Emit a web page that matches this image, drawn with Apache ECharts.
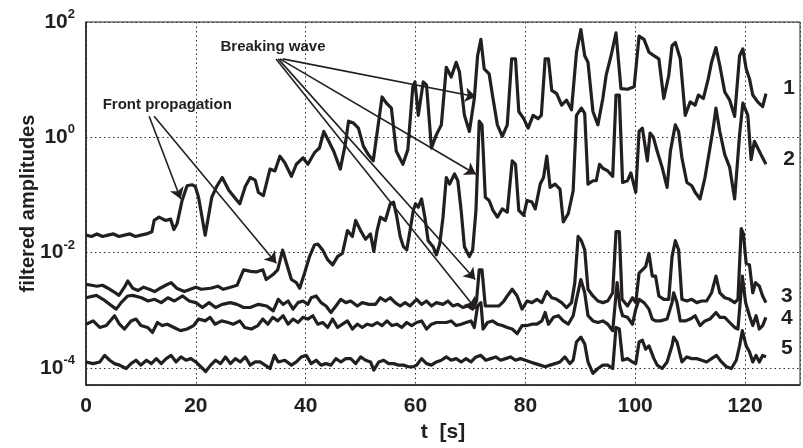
<!DOCTYPE html>
<html>
<head>
<meta charset="utf-8">
<script src="https://cdn.jsdelivr.net/npm/echarts@6/dist/echarts.min.js"></script>
<style>html,body{margin:0;padding:0;background:#fff}#c{width:803px;height:448px}</style>
</head>
<body>
<div id="c"></div>
<script>
// ---- data ----
const xTicks = [0, 20, 40, 60, 80, 100, 120];
const yTickExps = [-4, -2, 0, 2];
const seriesNames = ['1', '2', '3', '4', '5'];

const s1 = [[0,0.020],[1,0.019],[2,0.021],[3,0.019],[4,0.020],[5,0.021],[6,0.019],[7,0.020],[8,0.021],[9,0.019],[10,0.020],[11,0.021],[12,0.023],[12.4,0.036],[13.3,0.041],[14.5,0.036],[15.4,0.038],[16.0,0.025],[16.6,0.032],[17.5,0.080],[18.4,0.144],[19.3,0.15],[19.9,0.14],[20.5,0.09],[21.7,0.020],[22.9,0.091],[23.8,0.14],[24.8,0.20],[26.0,0.12],[27.5,0.080],[28.0,0.070],[29.0,0.14],[29.9,0.20],[30.8,0.18],[31.4,0.11],[32.3,0.097],[33.5,0.28],[34.4,0.26],[35.3,0.47],[36.2,0.36],[37.4,0.21],[38.3,0.34],[39.5,0.44],[40.4,0.34],[41.6,0.54],[42.5,0.65],[43.3,1.26],[44.2,0.85],[45.1,0.57],[46.3,0.28],[47.2,0.75],[47.8,1.9],[48.7,1.76],[49.6,1.44],[50.5,0.70],[51.4,0.50],[52.3,0.39],[53.2,1.64],[53.9,5.0],[54.7,3.9],[55.6,3.2],[56.5,0.57],[57.7,0.34],[58.6,0.61],[59.5,7.5],[59.9,9.1],[60.5,2.4],[61.4,9.1],[62.0,8.0],[62.9,0.65],[63.8,1.11],[64.7,1.64],[65.6,16.4],[66.5,11.1],[67.4,20],[68.0,13.5],[68.9,2.4],[69.8,1.26],[70.7,4.7],[71.3,26],[71.9,50],[72.5,15.4],[73.4,12.6],[74.0,5.4],[74.9,1.64],[75.8,1.04],[76.7,1.64],[77.5,22.9],[78.2,22.9],[78.8,2.8],[79.7,2.1],[80.5,1.44],[81.4,2.4],[82.3,2.1],[82.9,2.4],[83.6,22.9],[84.2,22.9],[84.8,6.5],[85.7,5.7],[86.6,3.6],[87.5,4.4],[88.4,3.0],[89.3,29.7],[90.1,74],[90.8,26],[91.4,20],[92.3,2.8],[93.2,1.64],[94.1,4.7],[94.7,11.8],[95.6,26],[96.5,65],[97.4,7.0],[98.6,6.8],[99.8,7.5],[100.7,57],[101.6,50],[102.5,30],[103.4,26],[104.3,23],[105.2,4.7],[106.1,11.8],[106.7,38.7],[107.3,44],[108.2,23],[109.1,2.4],[110,4.1],[110.9,3.6],[111.5,5.4],[112.4,4.7],[113.3,10.4],[113.9,20],[114.7,36],[115.4,17.6],[116.3,6.1],[117.2,4.4],[118.1,2.3],[119.0,26],[119.6,34],[120.2,15.4],[120.8,10.4],[121.4,5.4],[122.3,4.1],[123.2,3.4],[123.8,5.7]];

const s2 = [[0,0.0028],[1,0.0027],[2,0.0026],[3,0.0027],[4,0.0024],[5,0.0021],[6,0.0018],[7,0.0025],[7.6,0.0032],[8.5,0.0024],[9.5,0.0022],[10.5,0.0025],[11.5,0.0023],[12.5,0.0021],[13.5,0.0024],[14.5,0.0027],[15.5,0.0030],[16.5,0.0024],[17.9,0.0021],[19,0.0023],[20,0.0025],[21,0.0023],[22.7,0.0024],[24,0.0026],[25,0.0023],[26.3,0.0025],[27.5,0.0027],[28.7,0.0050],[30,0.0047],[31,0.0046],[32.2,0.0050],[32.8,0.0034],[34,0.0041],[34.9,0.0050],[35.8,0.011],[36.5,0.0065],[37.4,0.0034],[38.3,0.0030],[38.9,0.0024],[39.8,0.0044],[40.7,0.0085],[41.6,0.0135],[42.2,0.014],[43.1,0.011],[44,0.0075],[44.9,0.0061],[45.8,0.0085],[46.7,0.0097],[47.6,0.024],[48.5,0.019],[49.1,0.036],[50,0.024],[50.9,0.017],[51.8,0.021],[52.4,0.0104],[53,0.024],[53.6,0.041],[54.5,0.036],[55.4,0.070],[56,0.075],[56.6,0.041],[57.2,0.019],[57.8,0.0126],[58.4,0.0111],[59,0.024],[59.6,0.054],[60.0,0.070],[60.5,0.061],[61.1,0.085],[61.7,0.041],[62.3,0.016],[63.2,0.0126],[63.8,0.0091],[64.4,0.014],[65,0.041],[65.6,0.20],[66.2,0.154],[67.1,0.23],[67.7,0.176],[68.3,0.054],[68.9,0.0126],[69.8,0.0085],[70.4,0.0111],[71,0.054],[71.6,1.9],[72.1,1.64],[72.7,0.091],[73.4,0.080],[74.1,0.054],[74.9,0.041],[75.8,0.057],[76.7,0.050],[77.6,0.39],[78.2,0.34],[78.8,0.054],[79.7,0.044],[80.3,0.080],[81.2,0.075],[81.8,0.057],[82.7,0.154],[83.3,0.20],[83.9,0.47],[84.5,0.135],[85.4,0.154],[86.3,0.126],[86.9,0.034],[87.8,0.047],[88.7,0.118],[89.3,2.4],[90.2,3.2],[90.8,2.6],[91.4,0.154],[92.3,0.176],[92.9,0.176],[93.5,0.34],[94.1,0.29],[95,0.26],[95.9,0.21],[96.5,5.4],[97.1,5.4],[97.7,0.164],[98.6,0.176],[99.2,0.24],[100.1,0.111],[100.7,1.26],[101.3,1.44],[102.2,0.39],[102.7,1.18],[103.3,1.0],[104,0.57],[104.9,0.30],[105.8,0.135],[106.4,0.57],[107.3,1.64],[107.9,1.26],[108.5,0.44],[109.4,0.164],[110.3,0.144],[110.9,0.111],[111.8,0.085],[112.7,0.20],[113.6,0.65],[114.2,1.44],[114.7,3.2],[115.4,1.26],[116.3,0.50],[117.2,0.30],[118.1,0.085],[119,1.11],[119.6,3.9],[120.5,2.4],[121.1,0.41],[121.7,0.85],[122.3,0.65],[122.9,0.50],[123.8,0.34]];

const s3 = [[0,0.00164],[1.9,0.0018],[3.1,0.00154],[4.3,0.00126],[5.5,0.00104],[6.4,0.00135],[7.6,0.00176],[8.5,0.0018],[10.1,0.00164],[11.3,0.00144],[12.5,0.00154],[13.7,0.00135],[14.9,0.00164],[16.1,0.00144],[17.6,0.00176],[18.8,0.00144],[20,0.00135],[21.2,0.00111],[22.4,0.00135],[23.6,0.00111],[24.8,0.00126],[26.3,0.00135],[27.5,0.00126],[28.7,0.00111],[29.9,0.00111],[31.4,0.00126],[32.9,0.00118],[34.1,0.00097],[35,0.00154],[35.9,0.00126],[36.8,0.00144],[37.7,0.00104],[38.6,0.00135],[39.5,0.00144],[40.4,0.00126],[41,0.00164],[41.9,0.00176],[42.8,0.00135],[43.7,0.00118],[44.6,0.00091],[45.5,0.00118],[46.4,0.00154],[47.3,0.00135],[48.2,0.00144],[49.4,0.00118],[50.3,0.00135],[51.5,0.00126],[52.7,0.00126],[53.6,0.00164],[54.5,0.00144],[55.4,0.00164],[56.3,0.00135],[57.2,0.00118],[58.1,0.00135],[59,0.00118],[60.2,0.00154],[61.1,0.00126],[62,0.00144],[62.9,0.00118],[63.8,0.00135],[65,0.00126],[65.9,0.00144],[66.8,0.00118],[67.7,0.00126],[68.6,0.00111],[69.5,0.00118],[70.4,0.00104],[71.1,0.00144],[71.6,0.0050],[72.1,0.0050],[72.7,0.00118],[73.4,0.00118],[74.3,0.00118],[75.2,0.00118],[76.1,0.00144],[76.7,0.00176],[77.6,0.0023],[78.5,0.00176],[79.4,0.00104],[80.3,0.00144],[81.2,0.00135],[82.1,0.00154],[83,0.00135],[83.9,0.0021],[84.8,0.00164],[85.7,0.00154],[86.6,0.00135],[87.5,0.00111],[88.4,0.00135],[89,0.0030],[89.6,0.019],[90.2,0.016],[90.8,0.0111],[91.4,0.0023],[92.3,0.00176],[93.2,0.00144],[94.1,0.00135],[95,0.00144],[95.9,0.0020],[96.5,0.023],[97.1,0.023],[97.6,0.00154],[98.6,0.00118],[99.5,0.00164],[100.1,0.00135],[100.7,0.0044],[101.3,0.0050],[101.9,0.0057],[102.5,0.0097],[103.1,0.0039],[103.7,0.0039],[104.3,0.00176],[105.2,0.00154],[106.1,0.00154],[106.7,0.0085],[107.3,0.016],[107.9,0.0111],[108.5,0.00154],[109.4,0.00144],[110.3,0.00154],[111.2,0.00135],[112.1,0.00144],[113,0.00144],[113.9,0.0020],[114.7,0.0039],[115.4,0.0020],[116.3,0.00164],[117.2,0.00154],[118.1,0.00135],[118.7,0.00154],[119.3,0.026],[119.7,0.021],[120.2,0.0065],[120.8,0.0061],[121.4,0.0020],[121.9,0.0030],[122.6,0.0026],[123.2,0.00176],[123.8,0.00135]];

const s4 = [[0,0.00057],[1.3,0.00065],[2.5,0.00050],[3.7,0.00054],[5.2,0.00080],[6.1,0.00057],[7,0.00047],[8.2,0.00065],[9.1,0.00070],[10,0.00054],[11.2,0.00050],[12.1,0.00041],[13,0.00061],[13.9,0.00054],[14.8,0.00057],[16,0.00050],[17.2,0.00044],[18.4,0.00047],[19.6,0.00054],[20.5,0.00070],[21.7,0.00065],[22.6,0.00075],[23.5,0.00057],[24.7,0.00065],[25.9,0.00061],[26.8,0.00057],[28,0.00065],[28.9,0.00050],[30.1,0.00047],[31.3,0.00054],[32.2,0.00070],[33.1,0.00057],[34,0.00075],[34.9,0.00065],[35.9,0.00080],[36.8,0.00057],[37.7,0.00070],[38.6,0.00061],[39.5,0.00075],[40.4,0.00070],[41.3,0.00080],[42.2,0.00057],[43.1,0.00061],[44,0.00050],[44.9,0.00070],[45.8,0.00050],[46.7,0.00057],[47.6,0.00065],[48.5,0.00047],[49.4,0.00057],[50.3,0.00050],[51.2,0.00057],[52.1,0.00054],[53,0.00061],[53.9,0.00054],[54.8,0.00065],[55.7,0.00054],[56.6,0.00057],[57.5,0.00050],[58.4,0.00061],[59.3,0.00054],[60.2,0.00061],[61.1,0.00065],[62,0.00047],[62.9,0.00057],[63.8,0.00061],[64.7,0.00061],[65.6,0.00061],[66.5,0.00065],[67.4,0.00054],[68.3,0.00057],[69.2,0.00061],[70.1,0.00065],[70.7,0.00050],[71.3,0.00118],[71.9,0.00135],[72.3,0.00047],[73.1,0.00061],[74,0.00065],[74.9,0.00057],[75.8,0.00054],[76.7,0.00050],[77.6,0.00047],[78.5,0.00039],[79.4,0.00054],[80.3,0.00054],[81.2,0.00057],[82.1,0.00057],[83,0.00065],[83.6,0.00091],[84.2,0.00057],[85.1,0.00075],[86,0.00080],[86.9,0.00065],[87.8,0.00057],[88.7,0.00080],[89.3,0.00154],[90.1,0.0034],[90.8,0.0020],[91.4,0.00080],[92.3,0.00065],[93.2,0.00061],[94.1,0.00065],[95,0.00057],[95.9,0.00044],[96.7,0.0030],[97.2,0.00118],[97.7,0.00080],[98.6,0.00075],[99.5,0.00057],[100.1,0.00104],[100.7,0.00154],[101.6,0.00135],[102.5,0.00104],[103.1,0.00070],[103.7,0.00065],[104.6,0.00065],[105.8,0.00070],[106.7,0.00135],[107.0,0.0020],[107.6,0.00135],[108.2,0.00065],[109.1,0.00065],[110,0.00070],[110.9,0.00080],[111.8,0.00054],[112.7,0.00065],[113.6,0.00070],[114.7,0.00091],[115.4,0.00075],[116.3,0.00075],[117.2,0.00061],[118.1,0.00050],[118.7,0.00047],[119.5,0.0039],[120.1,0.00135],[120.8,0.00080],[121.4,0.00054],[122,0.00080],[122.6,0.00047],[123.2,0.00054],[123.8,0.00075]];

const s5 = [[0,0.000126],[1.3,0.000118],[2.5,0.000126],[3.4,0.000164],[4.3,0.000135],[5.2,0.000118],[6.1,0.000111],[7.3,0.000097],[8.2,0.000118],[9.1,0.000135],[10,0.000111],[11,0.000135],[11.9,0.000118],[12.8,0.000144],[13.7,0.000118],[14.6,0.000144],[15.5,0.000164],[16.4,0.000126],[17.3,0.000154],[18.2,0.000135],[19.1,0.000144],[20,0.000126],[20.9,0.000104],[21.8,0.000086],[22.7,0.000111],[23.6,0.000135],[24.5,0.000118],[25.4,0.000154],[26.3,0.000118],[27.2,0.000144],[28.1,0.000126],[29,0.000154],[29.9,0.000111],[30.8,0.000126],[31.7,0.000126],[32.6,0.000111],[33.5,0.000097],[34.3,0.000164],[35,0.000126],[36.2,0.000135],[37.4,0.000111],[38.3,0.000126],[39.2,0.000154],[40.1,0.000164],[41,0.000118],[41.9,0.000135],[42.8,0.000111],[43.7,0.000118],[44.6,0.000111],[45.5,0.000144],[46.4,0.000126],[47.3,0.000144],[48.2,0.000144],[49.1,0.000118],[50,0.000154],[50.9,0.000135],[51.8,0.000126],[52.4,0.000091],[53.3,0.000126],[54.2,0.000135],[55.1,0.000118],[56,0.000118],[56.9,0.000111],[57.8,0.000111],[58.7,0.000104],[59.6,0.000104],[60.2,0.000111],[61.1,0.000144],[62,0.000118],[62.9,0.000111],[63.8,0.000126],[64.7,0.000135],[65.6,0.000154],[66.5,0.000135],[67.4,0.000144],[68.3,0.000126],[69.2,0.000144],[70.1,0.000126],[71,0.000154],[71.9,0.000164],[72.8,0.000135],[73.7,0.000144],[74.6,0.000154],[75.5,0.000135],[76.4,0.000144],[77.3,0.000154],[78.2,0.000135],[79.1,0.000144],[80,0.000135],[80.9,0.000126],[81.8,0.000118],[82.7,0.000111],[83.6,0.000104],[84.5,0.000111],[85.4,0.000118],[86.3,0.000126],[87.2,0.000154],[88.1,0.000118],[88.7,0.000135],[89.3,0.00028],[90.1,0.00034],[90.8,0.00026],[91.4,0.000126],[92.3,0.000080],[93.2,0.000097],[94.1,0.000111],[95,0.000111],[95.9,0.000097],[96.5,0.00050],[97.1,0.00047],[97.7,0.000135],[98.6,0.000144],[99.5,0.000126],[100.1,0.000118],[100.7,0.00028],[101.3,0.00030],[101.9,0.00021],[102.5,0.00024],[103.4,0.000144],[104,0.000111],[104.9,0.000097],[105.8,0.000126],[106.7,0.00024],[107,0.00034],[107.6,0.00028],[108.5,0.000126],[109.4,0.000154],[110.3,0.000144],[111.2,0.000144],[112.1,0.000135],[113,0.000126],[113.9,0.000144],[114.8,0.000164],[115.7,0.000126],[116.6,0.000104],[117.5,0.000097],[118.4,0.000135],[119,0.00024],[119.5,0.00044],[120.2,0.00024],[120.8,0.00019],[121.4,0.000126],[122,0.000164],[122.6,0.000126],[123.2,0.000164],[123.8,0.000154]];

// series end labels: [t, amplitude]
const endLabelPos = [[128, 7.0], [128, 0.41], [127.6, 0.00175], [127.6, 0.00071], [127.6, 0.000217]];
// annotation texts and arrows (data coordinates)
const notes = [{text: 'Breaking wave', at: [34.05, 36.7]}, {text: 'Front propagation', at: [14.8, 3.6]}];
const breakingArrows = [[[35.8, 22.9], [71.0, 5.03]], [[35.3, 22.9], [71.0, 0.228]], [[35.0, 22.9], [70.86, 0.0034]], [[34.6, 22.9], [71.0, 0.00105]]];
const frontArrows = [[[11.5, 2.31], [17.24, 0.085]], [[12.4, 2.31], [34.65, 0.00653]]];

// ---- chart ----
const INK = '#231f20';
const FONT = 'Liberation Sans, Arial, Helvetica, sans-serif';
const chart = echarts.init(document.getElementById('c'), null, {renderer: 'canvas'});

const arrowData = breakingArrows.concat(frontArrows).map(a => [{coord: a[0]}, {coord: a[1]}]);

const allSeries = [s1, s2, s3, s4, s5].map((d, i) => {
  const s = {
    name: seriesNames[i],
    type: 'line',
    data: d,
    showSymbol: false,
    symbol: 'none',
    lineStyle: {color: INK, width: 3.2, join: 'round'},
    itemStyle: {color: INK},
    silent: true,
    z: 3,
    markPoint: {
      symbol: 'circle', symbolSize: 0, silent: true,
      label: {show: true, position: 'inside', formatter: seriesNames[i], color: INK,
        fontSize: 21, fontWeight: 'bold', fontFamily: FONT},
      data: [{coord: endLabelPos[i]}]
    }
  };
  if (i === 0) {
    s.markLine = {
      silent: true, symbol: ['none', 'arrow'], symbolSize: 11,
      label: {show: false},
      lineStyle: {color: INK, width: 1.6, type: 'solid'},
      emphasis: {disabled: true},
      data: arrowData
    };
  }
  if (i === 1) {
    s.markPoint.data.push(...notes.map(n => ({coord: n.at, label: {formatter: n.text, fontSize: 15}})));
  }
  return s;
});

chart.setOption({
  animation: false,
  backgroundColor: '#fff',
  grid: {left: 86, top: 22, width: 722, height: 369, show: true, borderColor: INK, borderWidth: 1, backgroundColor: 'transparent'},
  xAxis: {
    type: 'value', min: 0, max: 130, interval: 20,
    name: 't  [s]', nameLocation: 'middle', nameGap: 34,
    nameTextStyle: {color: INK, fontSize: 21, fontWeight: 'bold', fontFamily: FONT},
    axisLine: {show: true, lineStyle: {color: INK, width: 1.5}},
    axisTick: {show: false},
    axisLabel: {color: INK, fontSize: 21, fontWeight: 'bold', fontFamily: FONT, margin: 11,
      formatter: v => (xTicks.indexOf(v) >= 0 ? String(v) : '')},
    splitLine: {show: true, lineStyle: {color: '#333', width: 1, type: [1.5, 3]}}
  },
  yAxis: {
    type: 'log', logBase: 100, min: 5e-5, max: 100,
    name: 'filtered amplitudes', nameLocation: 'middle', nameGap: 48, nameMoveOverlap: false,
    nameTextStyle: {color: INK, fontSize: 20, fontWeight: 'bold', fontFamily: FONT},
    axisLine: {show: true, lineStyle: {color: INK, width: 1.5}},
    axisTick: {show: false},
    minorTick: {show: false},
    axisLabel: {
      margin: 11,
      formatter: v => {
        const e = Math.log10(v), r = Math.round(e);
        if (Math.abs(e - r) > 1e-3 || yTickExps.indexOf(r) < 0) return '';
        return '{b|10}{s|' + r + '}';
      },
      rich: {
        b: {fontSize: 21, fontWeight: 'bold', color: INK, fontFamily: FONT, lineHeight: 22},
        s: {fontSize: 13, fontWeight: 'bold', color: INK, fontFamily: FONT, verticalAlign: 'bottom', padding: [0, 0, 12, 0], lineHeight: 14}
      }
    },
    splitLine: {show: true, lineStyle: {color: '#333', width: 1, type: [1.5, 3]}}
  },
  series: allSeries
});
</script>
</body>
</html>
